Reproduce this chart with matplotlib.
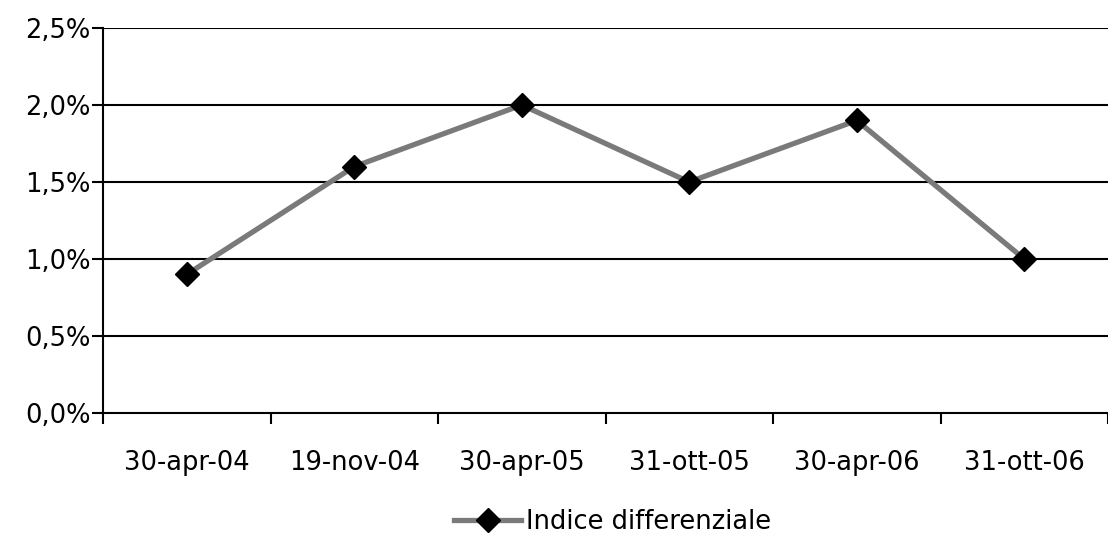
import matplotlib
matplotlib.use("Agg")
import matplotlib.pyplot as plt
from matplotlib.ticker import FixedLocator, FuncFormatter

categories = ["30-apr-04", "19-nov-04", "30-apr-05", "31-ott-05", "30-apr-06", "31-ott-06"]
values = [0.9, 1.6, 2.0, 1.5, 1.9, 1.0]
y_ticks = [0.0, 0.5, 1.0, 1.5, 2.0, 2.5]
series_name = "Indice differenziale"

plt.rcParams['font.family'] = ['DejaVu Sans']
FS = 18.5

fig = plt.figure(figsize=(11.08, 5.35), dpi=100)
ax = fig.add_axes([103/1108, 1 - 413/535, 1 - 103/1108, (413 - 28)/535])

x = list(range(len(categories)))
ax.plot(x, values, color="#7a7a7a", lw=3.8, marker="D", markersize=12,
        markerfacecolor="black", markeredgecolor="black", label=series_name, zorder=3)

ax.set_xlim(-0.5, len(categories) - 0.5)
ax.set_ylim(0, 2.5)

for t in y_ticks[1:]:
    ax.axhline(t, color="black", lw=1.5, zorder=1)

ax.yaxis.set_major_locator(FixedLocator(y_ticks))
ax.yaxis.set_major_formatter(FuncFormatter(lambda v, p: f"{v:.1f}%".replace(".", ",")))
ax.tick_params(axis="y", direction="out", length=8, width=1.5, pad=1, labelsize=FS)

ax.xaxis.set_major_locator(FixedLocator([i - 0.5 for i in range(len(categories) + 1)]))
ax.xaxis.set_major_formatter(FuncFormatter(lambda v, p: ""))
ax.xaxis.set_minor_locator(FixedLocator(x))
ax.set_xticklabels(categories, minor=True)
ax.tick_params(axis="x", which="major", direction="out", length=8, width=1.5)
ax.tick_params(axis="x", which="minor", length=0, pad=27, labelsize=FS)

for s in ["top", "right"]:
    ax.spines[s].set_visible(False)
for s in ["left", "bottom"]:
    ax.spines[s].set_linewidth(1.5)
    ax.spines[s].set_color("black")

fig.legend(loc="center", bbox_to_anchor=(613/1108, 1 - 522/535), frameon=False,
           fontsize=FS, handlelength=2.6, handletextpad=0.2, borderpad=0)

fig.savefig("out.png", dpi=100)
